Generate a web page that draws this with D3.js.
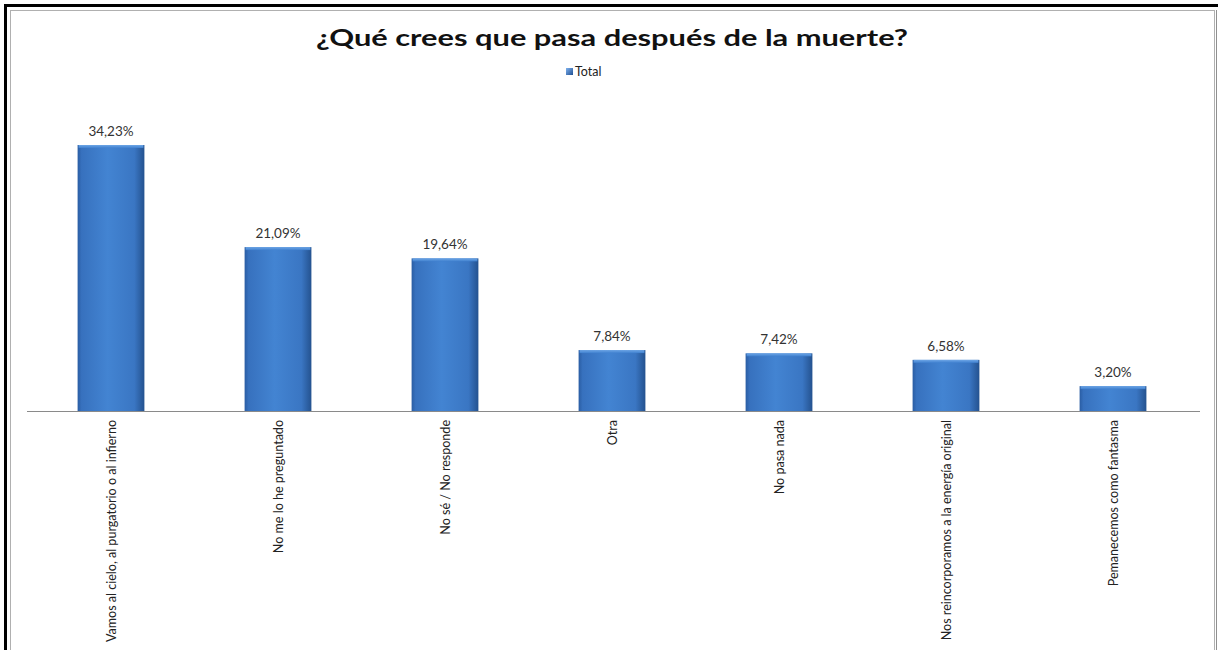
<!DOCTYPE html>
<html><head><meta charset="utf-8">
<script src="https://cdn.jsdelivr.net/npm/d3@7"></script>
<style>body{margin:0;background:#fff}svg{display:block}</style>
</head><body>
<script>
const categories = ["Vamos al cielo, al purgatorio o al infierno","No me lo he preguntado","No sé / No responde","Otra","No pasa nada","Nos reincorporamos a la energía original","Pemanecemos como fantasma"];
const values = [34.23, 21.09, 19.64, 7.84, 7.42, 6.58, 3.20];
const valueLabels = ["34,23%","21,09%","19,64%","7,84%","7,42%","6,58%","3,20%"];
const seriesName = "Total";
const titleText = "¿Qué crees que pasa después de la muerte?";

const W = 1218, H = 650;
const FONT = "Lato, 'Open Sans', sans-serif";
const svg = d3.select("body").append("svg").attr("width", W).attr("height", H);
const defs = svg.append("defs");
const g1 = defs.append("linearGradient").attr("id","barGrad").attr("x1","0").attr("x2","1").attr("y1","0").attr("y2","0");
[["0%","#2a5da3"],["6%","#3771be"],["45%","#4384d2"],["85%","#3a76c3"],["100%","#24528f"]].forEach(([o,c])=>g1.append("stop").attr("offset",o).attr("stop-color",c));
const g2 = defs.append("linearGradient").attr("id","topGrad").attr("x1","0").attr("x2","0").attr("y1","0").attr("y2","1");
[["0%","#6ea6e6"],["100%","#3f80cf"]].forEach(([o,c])=>g2.append("stop").attr("offset",o).attr("stop-color",c));
const g3 = defs.append("linearGradient").attr("id","legGrad").attr("x1","0").attr("x2","1").attr("y1","0").attr("y2","1");
[["0%","#7fb2ee"],["100%","#1f4f93"]].forEach(([o,c])=>g3.append("stop").attr("offset",o).attr("stop-color",c));

// frame
svg.append("rect").attr("x",5.5).attr("y",5.5).attr("width",1240).attr("height",700).attr("fill","none").attr("stroke","#000").attr("stroke-width",3);
svg.append("rect").attr("x",10.5).attr("y",10.5).attr("width",1204).attr("height",700).attr("fill","none").attr("stroke","#b0b0b0").attr("stroke-width",1);
svg.append("line").attr("x1",1216.5).attr("x2",1216.5).attr("y1",10).attr("y2",H).attr("stroke","#909090");

const baseY = 411;
const x = d3.scaleBand().domain(categories).range([27.5, 1196.5]).paddingInner(0.6).paddingOuter(0.3);
const y = d3.scaleLinear().domain([0, 34.23]).range([baseY, 145]);

// title
svg.append("text").attr("x",612).attr("y",46).attr("text-anchor","middle")
  .attr("font-family",FONT).attr("font-weight","bold").attr("font-size",23)
  .attr("fill","#111").text(titleText)
  .each(function(){ const l=this.getComputedTextLength(); if(l>0) d3.select(this).attr("textLength",592).attr("lengthAdjust","spacingAndGlyphs"); });

// legend
svg.append("rect").attr("x",566).attr("y",68).attr("width",7).attr("height",7).attr("fill","url(#legGrad)");
svg.append("text").attr("x",575).attr("y",76).attr("font-family",FONT).attr("font-size",12.5).attr("fill","#222").text(seriesName);

// bars
const bars = svg.append("g");
bars.selectAll("rect.bar").data(values).join("rect").attr("class","bar")
  .attr("x",(d,i)=>x(categories[i])).attr("width",x.bandwidth())
  .attr("y",d=>y(d)).attr("height",d=>baseY-y(d)).attr("fill","url(#barGrad)");
bars.selectAll("rect.top").data(values).join("rect").attr("class","top")
  .attr("x",(d,i)=>x(categories[i])+1).attr("width",x.bandwidth()-2)
  .attr("y",d=>y(d)).attr("height",3).attr("fill","url(#topGrad)");

// value labels
svg.append("g").selectAll("text").data(values).join("text")
  .attr("x",(d,i)=>x(categories[i])+x.bandwidth()/2).attr("y",d=>y(d)-9)
  .attr("text-anchor","middle").attr("font-family",FONT).attr("font-size",13.5)
  .attr("fill","#333").text((d,i)=>valueLabels[i]);

// axis
const axis = svg.append("g").attr("transform",`translate(0,${baseY})`).call(d3.axisBottom(x).tickSize(0).tickPadding(0));
axis.select(".domain").attr("stroke","#8a8a8a").attr("d","M27,0.5H1200");
const tickTexts = axis.selectAll(".tick text").attr("transform","rotate(-90)").attr("text-anchor","end")
  .attr("x",-9).attr("y",0).attr("dy","0.35em")
  .attr("font-family",FONT).attr("font-size",13).attr("fill","#222");
// condense to match reference label length (first label ≈ 222px)
const firstLen = tickTexts.nodes()[0].getComputedTextLength();
const factor = firstLen > 0 ? Math.min(1, 222 / firstLen) : 1;
tickTexts.each(function(){ const l=this.getComputedTextLength(); if(l>0) d3.select(this).attr("textLength",l*factor).attr("lengthAdjust","spacingAndGlyphs"); });
</script>
</body></html>
